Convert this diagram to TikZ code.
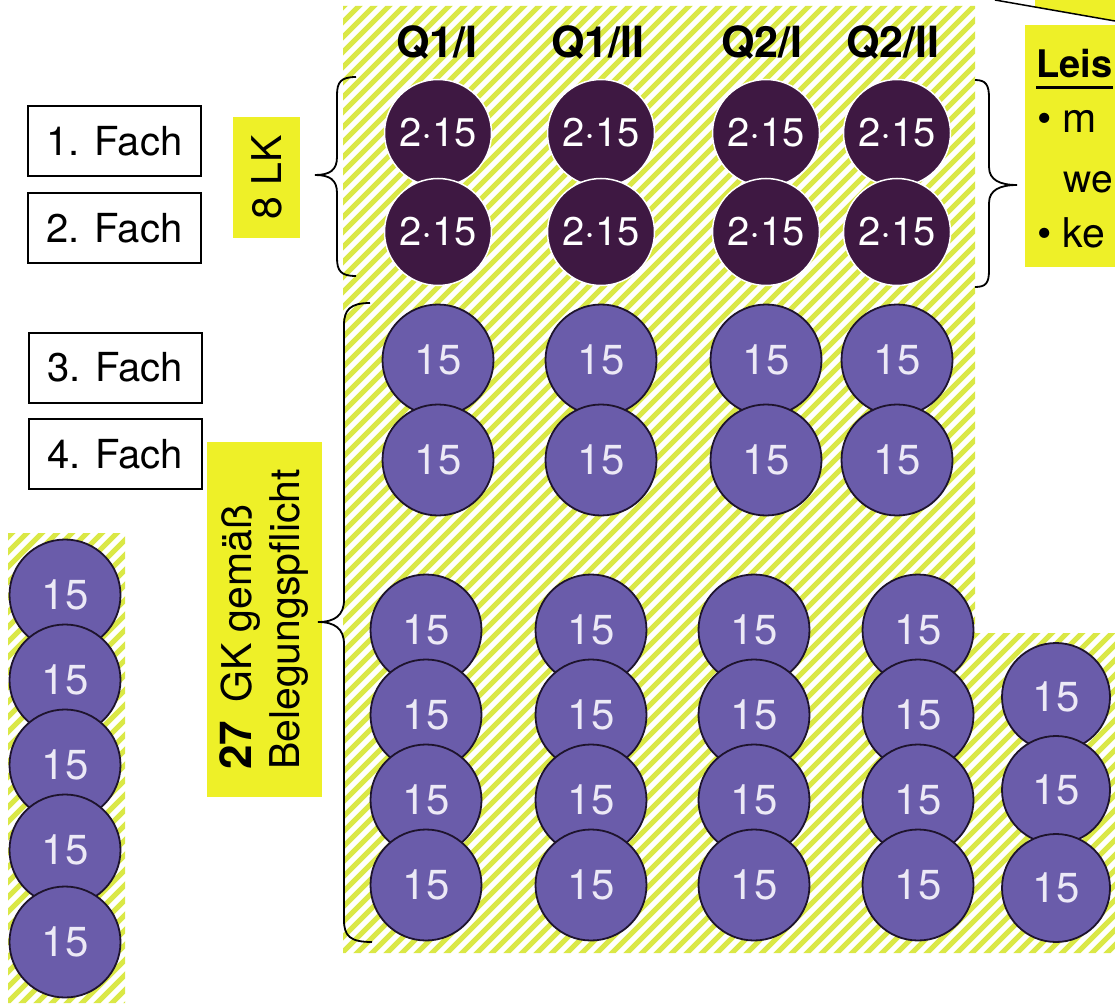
\documentclass[tikz,border=0pt]{standalone}
\usepackage{fontspec}
\setmainfont{TeX Gyre Heros}
\definecolor{hatchyel}{RGB}{218,232,70}
\definecolor{boxyel}{RGB}{238,240,40}
\definecolor{lkfill}{RGB}{62,24,66}
\definecolor{gkfill}{RGB}{106,92,170}
\definecolor{gkline}{RGB}{30,20,45}
\definecolor{gktext}{RGB}{236,233,246}
\begin{document}
\begin{tikzpicture}[x=1pt,y=-1pt,
  hatchline/.style={line width=5.2pt, draw=hatchyel},
  lk/.style={circle, fill=lkfill, draw=white, line width=1.5pt, minimum size=107pt, inner sep=0pt, text=white, font=\fontsize{40}{42}\selectfont},
  gk/.style={circle, fill=gkfill, draw=gkline, line width=1.8pt, minimum size=111pt, inner sep=0pt, text=gktext, font=\fontsize{42}{44}\selectfont},
  fachbox/.style={draw=black, fill=white, line width=2pt, minimum width=173pt, minimum height=70pt, inner sep=0pt, font=\fontsize{40}{42}\selectfont},
  head/.style={inner sep=0pt, font=\bfseries\fontsize{43}{45}\selectfont},
  bracepath/.style={line width=1.8pt, draw=black},
  ybox/.style={fill=boxyel, inner sep=0pt},
  rtext/.style={inner sep=0pt, anchor=base west, font=\fontsize{41}{43}\selectfont}
]
\useasboundingbox (0,0) rectangle (1115,1003);

% hatched background
\begin{scope}
\clip (343,6) rectangle (975,953) (975,633) rectangle (1115,953) (8,533) rectangle (125,1003);
\foreach \a in {-1005,-990,...,1125} \draw[hatchline] (\a,1010) -- (\a+1010,0);
\end{scope}

% top-right callout remnant
\coordinate (cA) at (995,0);
\coordinate (cB) at (1115,21);
\fill[boxyel] (1035,0) -- (1115,0) -- (cB) -- (1035,7) -- cycle;
\draw[line width=1.5pt] (cA) -- (cB);

% right yellow box
\node[ybox, anchor=north west, minimum width=90pt, minimum height=242pt] (lbox) at (1025,25) {};
\node[rtext, font=\bfseries\fontsize{38}{40}\selectfont] (leis) at (1036,78) {Leis};
\draw[line width=3pt] (1036,88) -- (1113,88);
\node[rtext] (b1) at (1037,133) {\textbullet\ m};
\node[rtext, font=\fontsize{39}{41}\selectfont] (b1b) at (1063,192) {we};
\node[rtext] (b2) at (1037,247) {\textbullet\ ke};

% left labels
\node[fachbox] (f1) at (114.5,141) {1. Fach};
\node[fachbox] (f2) at (114.5,228) {2. Fach};
\node[fachbox] (f3) at (115,367.5) {3. Fach};
\node[fachbox] (f4) at (115,454) {4. Fach};

\node[ybox, rotate=90, minimum width=121pt, minimum height=67pt, font=\fontsize{41}{42}\selectfont] (lklabel) at (266.5,177.5) {8 LK};
\node[ybox, rotate=90, minimum width=355pt, minimum height=115pt, align=left, font=\fontsize{41}{48}\selectfont] (gklabel) at (264.5,619.5) {{\bfseries\fontsize{44}{48}\selectfont 27}\, GK gemäß\\Belegungspflicht};

% braces
\draw[bracepath] (356,77) .. controls (341,77) and (337,82) .. (337,95) -- (337,157) .. controls (337,170) and (330,175) .. (315,175) .. controls (330,175) and (337,180) .. (337,193) -- (337,258) .. controls (337,271) and (341,276) .. (356,276);
\draw[bracepath] (975,80) .. controls (986,80) and (989,85) .. (989,98) -- (989,167) .. controls (989,180) and (1000,185) .. (1017,185) .. controls (1000,185) and (989,190) .. (989,203) -- (989,270) .. controls (989,283) and (986,287) .. (975,287);
\draw[bracepath] (370,303) .. controls (350,303) and (344,310) .. (344,325) -- (344,600) .. controls (344,615) and (335,622) .. (318,622) .. controls (335,622) and (344,629) .. (344,644) -- (344,920) .. controls (344,936) and (350,942) .. (372,942);

% column headers
\node[head] (h1) at (437,42) {Q1/I};
\node[head] (h2) at (598,42) {Q1/II};
\node[head] (h3) at (762,42) {Q2/I};
\node[head] (h4) at (893,42) {Q2/II};

% LK circles
\foreach \x [count=\c] in {438,601,766,897} {
  \node[lk] (lka\c) at (\x,133) {2·15};
  \node[lk] (lkb\c) at (\x,232) {2·15};
}

% GK circles (3./4. Fach)
\foreach \x [count=\c] in {438,601,766,897} {
  \node[gk] (gka\c) at (\x,360) {15};
  \node[gk] (gkb\c) at (\x,460) {15};
}

% GK circles lower block
\foreach \x [count=\c] in {426,591,754,918} {
  \foreach \y [count=\r] in {630,715,800,885} {
    \node[gk] (gl\c\r) at (\x,\y) {15};
  }
}

% extra right column
\foreach \y [count=\r] in {697,790,888} {
  \node[gk, minimum size=108pt] (gr\r) at (1056,\y) {15};
}

% left column
\foreach \y [count=\r] in {595,680,765,850,942} {
  \node[gk] (gs\r) at (65,\y) {15};
}
\end{tikzpicture}
\end{document}
